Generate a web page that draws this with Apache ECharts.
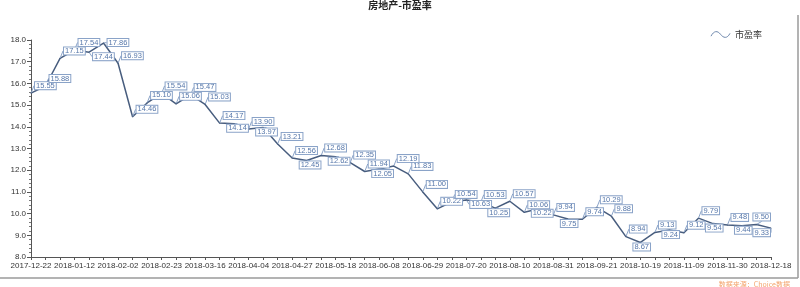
<!DOCTYPE html>
<html><head><meta charset="utf-8">
<script src="https://cdn.jsdelivr.net/npm/echarts@6/dist/echarts.min.js"></script>
<style>html,body{margin:0;padding:0;background:#fff}#c{width:800px;height:287px}</style>
</head><body><div id="c"></div>
<script>
const titleText = '房地产-市盈率';
const seriesName = '市盈率';
const sourceText = '数据来源：Choice数据';
const dates = [
  '2017-12-22','2017-12-29','2018-01-05','2018-01-12','2018-01-19','2018-01-26','2018-02-02','2018-02-09','2018-02-14','2018-02-23',
  '2018-03-02','2018-03-09','2018-03-16','2018-03-23','2018-03-30','2018-04-04','2018-04-13','2018-04-20','2018-04-27','2018-05-04',
  '2018-05-11','2018-05-18','2018-05-25','2018-06-01','2018-06-08','2018-06-15','2018-06-22','2018-06-29','2018-07-06','2018-07-13',
  '2018-07-20','2018-07-27','2018-08-03','2018-08-10','2018-08-17','2018-08-24','2018-08-31','2018-09-07','2018-09-14','2018-09-21',
  '2018-09-28','2018-10-12','2018-10-19','2018-10-26','2018-11-02','2018-11-09','2018-11-16','2018-11-23','2018-11-30','2018-12-07',
  '2018-12-14','2018-12-18'
];
const peValues = [
  15.55, 15.88, 17.15, 17.54, 17.44, 17.86, 16.93, 14.46, 15.10, 15.54,
  15.06, 15.47, 15.03, 14.17, 14.14, 13.90, 13.97, 13.21, 12.56, 12.45,
  12.68, 12.62, 12.35, 11.94, 12.05, 12.19, 11.83, 11.00, 10.22, 10.54,
  10.63, 10.53, 10.25, 10.57, 10.06, 10.22, 9.94, 9.75, 9.74, 10.29,
  9.88, 8.94, 8.67, 9.13, 9.24, 9.12, 9.79, 9.54, 9.48, 9.44,
  9.50, 9.33
];
const yMin = 8, yMax = 18, yStep = 1;

const FONT = '"Liberation Sans", Arial, sans-serif';
const LABEL_SIZE = 7.5, LABEL_LH = 7, LABEL_PADX = 1;
const LINE_COLOR = '#485d7e';
const BOX_COLOR = '#8aa3c8';
const LABEL_TEXT = '#5677aa';

const chart = echarts.init(document.getElementById('c'), null, {renderer: 'canvas'});
const option = {
  animation: false,
  backgroundColor: '#fff',
  title: {
    text: titleText, left: 'center', top: 0, padding: 0,
    textStyle: {fontSize: 10, fontWeight: 'bold', color: '#222', fontFamily: '"Noto Sans CJK SC", sans-serif'}
  },
  legend: {
    right: 33, top: 25, itemWidth: 19, itemHeight: 7, itemGap: 6,
    textStyle: {fontSize: 9, color: '#333', fontFamily: '"Noto Sans CJK SC", sans-serif'},
    data: [{
      name: seriesName,
      icon: 'path://M0,6 C3,0 7,0 10,4 C13,8 17,9 20,3',
      itemStyle: {color: 'rgba(0,0,0,0)', borderColor: '#7089ae', borderWidth: 1}
    }]
  },
  grid: {left: 31, right: 29, top: 40, bottom: 30},
  xAxis: {
    type: 'category', data: dates, boundaryGap: false,
    axisLine: {lineStyle: {color: '#555', width: 1}},
    axisTick: {show: true, interval: 0, length: 3, lineStyle: {color: '#555'}},
    axisLabel: {interval: 2, fontSize: 8, color: '#333', margin: 5, fontFamily: FONT},
    splitLine: {show: false}
  },
  yAxis: {
    type: 'value', min: yMin, max: yMax, interval: yStep,
    axisLine: {show: true, lineStyle: {color: '#555', width: 1}},
    axisTick: {show: true, length: 4, lineStyle: {color: '#555'}},
    minorTick: {show: true, splitNumber: 5, length: 2, lineStyle: {color: '#777'}},
    axisLabel: {fontSize: 8, color: '#333', margin: 5, fontFamily: FONT, formatter: v => v.toFixed(1)},
    splitLine: {show: false}
  },
  series: [{
    type: 'line', name: seriesName, data: peValues,
    symbol: 'circle', symbolSize: 1, showAllSymbol: true,
    itemStyle: {color: LINE_COLOR},
    lineStyle: {color: LINE_COLOR, width: 1.5},
    label: {
      show: true, fontSize: LABEL_SIZE, lineHeight: LABEL_LH, color: LABEL_TEXT, fontFamily: FONT,
      backgroundColor: '#fff', borderColor: BOX_COLOR, borderWidth: 1, padding: [0, LABEL_PADX],
      formatter: p => p.value.toFixed(2)
    },
    labelLine: {show: true, lineStyle: {color: BOX_COLOR, width: 1}}
  }],
  graphic: [
    {type: 'line', silent: true, shape: {x1: 0, y1: 278, x2: 798, y2: 278}, style: {stroke: '#9a9a9a', lineWidth: 1.5}},
    {type: 'line', silent: true, shape: {x1: 798, y1: 15, x2: 798, y2: 278}, style: {stroke: '#9a9a9a', lineWidth: 1.5}},
    {type: 'text', silent: true, x: 790, y: 284, style: {text: sourceText, fill: '#f4a46c', fontSize: 7, textAlign: 'right', textVerticalAlign: 'middle', fontFamily: '"Noto Sans CJK SC", sans-serif'}}
  ]
};
chart.setOption(option);

function computeLayout() {
  const ctx = document.createElement('canvas').getContext('2d');
  ctx.font = LABEL_SIZE + 'px ' + FONT;
  const right = chart.convertToPixel({xAxisIndex: 0}, dates.length - 1);
  const top = chart.convertToPixel({yAxisIndex: 0}, yMax);
  const bottom = chart.convertToPixel({yAxisIndex: 0}, yMin);
  const boxes = [];
  const res = [];
  const tol = 1.5;
  function overlaps(b) {
    for (const o of boxes) {
      if (b.x < o.x + o.w - tol && o.x < b.x + b.w - tol && b.y < o.y + o.h - tol && o.y < b.y + b.h - tol) return true;
    }
    return false;
  }
  function clamp(b) {
    b.x = Math.min(b.x, right - b.w);
    b.y = Math.max(b.y, top - 1);
    b.y = Math.min(b.y, bottom - b.h);
    return b;
  }
  peValues.forEach((v, i) => {
    const [px, py] = chart.convertToPixel({seriesIndex: 0}, [i, v]);
    const w = ctx.measureText(v.toFixed(2)).width + 2 * LABEL_PADX + 1;
    const h = LABEL_LH + 1;
    const cands = [
      {x: px + 4, y: py - 3 - h, w, h, up: true},
      {x: px - 7, y: py + 1, w, h, up: false},
      {x: px + 4, y: py + 1, w, h, up: false}
    ].map(clamp);
    let chosen = cands.find(b => !overlaps(b));
    if (!chosen) {
      for (let d = 1; d < 25 && !chosen; d++) {
        const b = clamp({x: px + 4, y: py + 1 + d, w, h, up: false});
        if (!overlaps(b)) chosen = b;
      }
    }
    if (!chosen) chosen = cands[0];
    boxes.push(chosen);
    const cx = Math.max(chosen.x, Math.min(px, chosen.x + chosen.w));
    const cy = chosen.up ? chosen.y + chosen.h : chosen.y;
    res.push({
      x: chosen.x, y: chosen.y, align: 'left', verticalAlign: 'top',
      labelLinePoints: [[px, py], [cx, cy], [cx, cy]]
    });
  });
  return res;
}
const layout = computeLayout();
chart.setOption({series: [{labelLayout: p => layout[p.dataIndex]}]});
</script>
</body></html>
